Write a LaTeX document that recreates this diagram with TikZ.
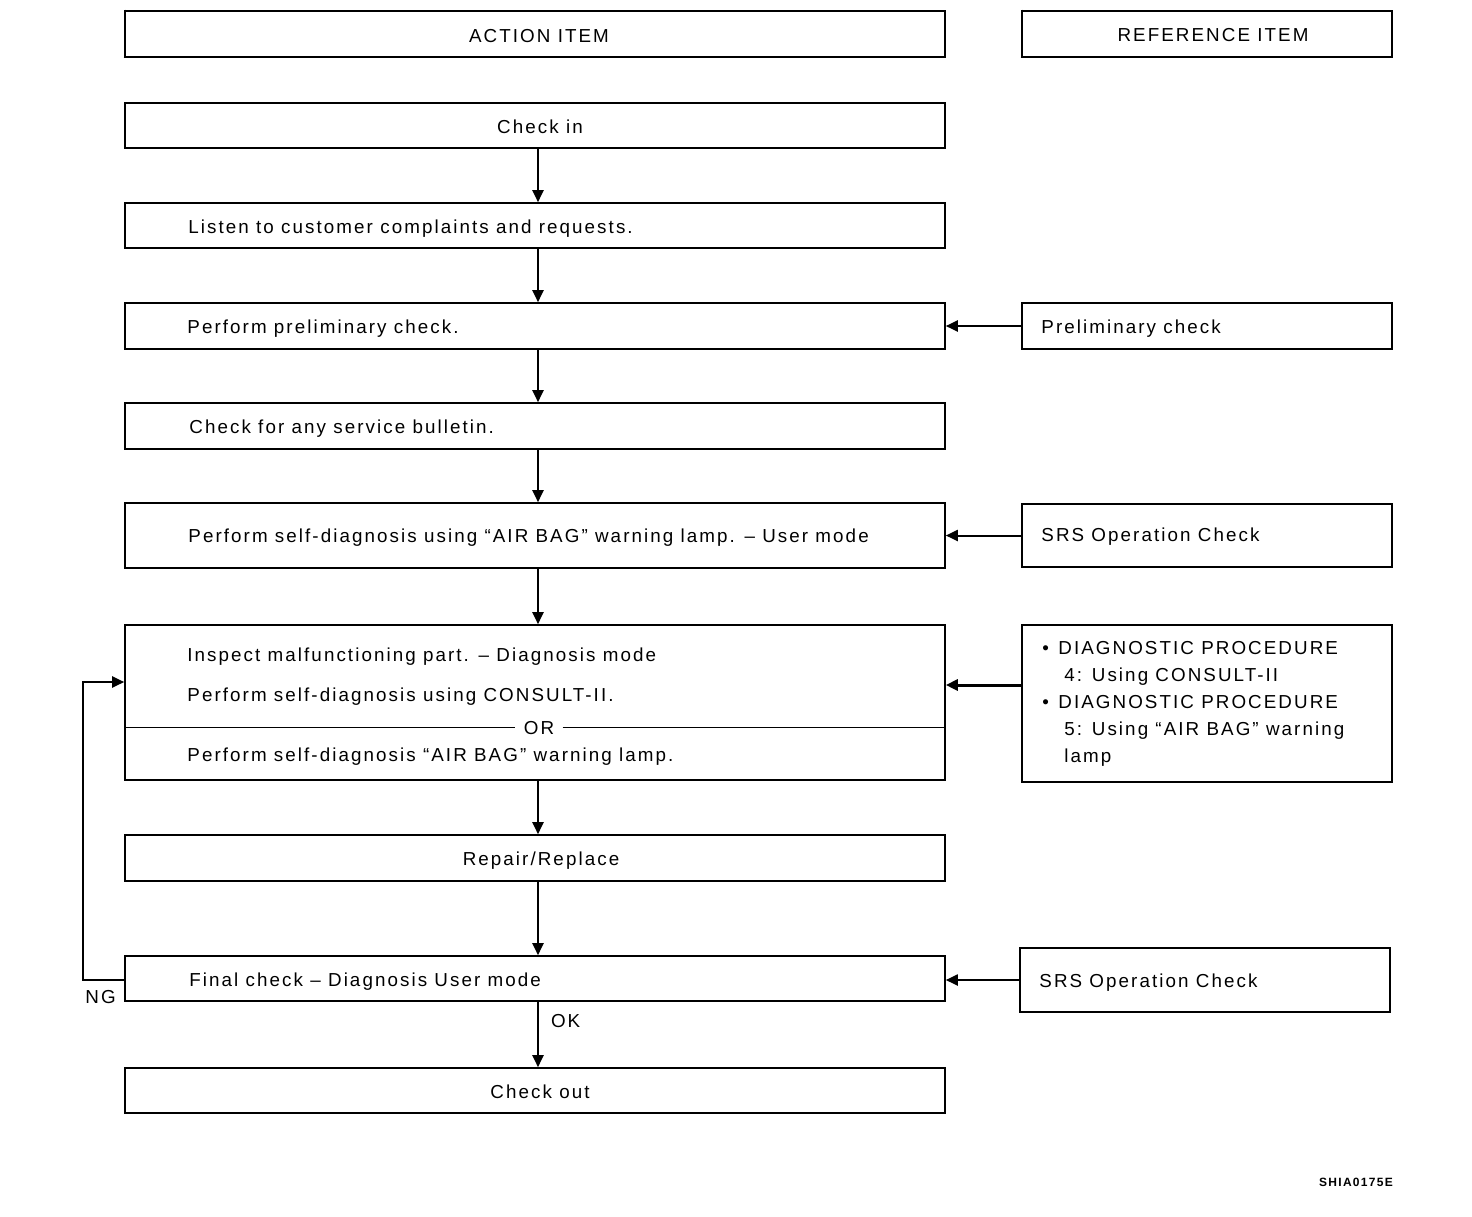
\documentclass[tikz,border=0pt]{standalone}
\usepackage{fontspec}
\setmainfont{Liberation Sans}[LetterSpace=11]
\usetikzlibrary{arrows.meta,fit}
\begin{document}
\begin{tikzpicture}[x=0.5pt,y=-0.5pt,
  box/.style={draw, line width=0.8pt, inner sep=0pt},
  headbox/.style={draw, line width=1.3pt, inner sep=0pt},
  txt/.style={anchor=base west, inner sep=0pt, font=\fontsize{9.4}{11}\selectfont},
  ctxt/.style={anchor=base, inner sep=0pt, font=\fontsize{9.4}{11}\selectfont},
  arr/.style={line width=1pt, -{Triangle[length=6pt,width=5.5pt]}},
  lnk/.style={line width=1pt}]
\useasboundingbox (0,0) rectangle (1472,1216);
% headers
\node[headbox, fit={(125,11)(945,57)}] (hA) {};
\draw[line width=1pt] ([xshift=0.6pt]hA.north west) -- ([xshift=0.6pt]hA.south west);
\draw[line width=0.8pt] ([yshift=0.5pt]hA.south west) -- ([yshift=0.5pt]hA.south east);
\node[ctxt] (hAt) at (539,42) {ACTION ITEM};
\node[headbox, fit={(1022,11)(1392,57)}] (hR) {};
\draw[line width=1pt] ([xshift=0.6pt]hR.north west) -- ([xshift=0.6pt]hR.south west);
\draw[line width=0.8pt] ([yshift=0.5pt]hR.south west) -- ([yshift=0.5pt]hR.south east);
\node[ctxt] (hRt) at (1213,41) {REFERENCE ITEM};
% action boxes
\node[box, fit={(125,103)(945,148)}] (b1) {};
\node[ctxt] (t1) at (540,133) {Check in};
\node[box, fit={(125,203)(945,248)}] (b2) {};
\node[txt] (t2) at (188,233) {Listen to customer complaints and requests.};
\node[box, fit={(125,303)(945,349)}] (b3) {};
\node[txt] (t3) at (187,333) {Perform preliminary check.};
\node[box, fit={(125,403)(945,449)}] (b4) {};
\node[txt] (t4) at (189,433) {Check for any service bulletin.};
\node[box, fit={(125,503)(945,568)}] (b5) {};
\node[txt] (t5) at (188,542) {Perform self-diagnosis using “AIR BAG” warning lamp. – User mode};
\node[box, fit={(125,625)(945,780)}] (b6) {};
\node[txt] (t6a) at (187,661) {Inspect malfunctioning part. – Diagnosis mode};
\node[txt] (t6b) at (187,701) {Perform self-diagnosis using CONSULT-II.};
\node[ctxt, fill=white, inner xsep=4pt] (t6or) at (539,734) {OR};
\node[txt] (t6c) at (187,761) {Perform self-diagnosis “AIR BAG” warning lamp.};
\draw[line width=0.8pt] (b6.west |- t6or.west) -- (t6or.west);
\draw[line width=0.8pt] (t6or.east) -- (b6.east |- t6or.east);
\node[box, fit={(125,835)(945,881)}] (b7) {};
\node[ctxt] (t7) at (541,865) {Repair/Replace};
\node[box, fit={(125,956)(945,1001)}] (b8) {};
\node[txt] (t8) at (189,986) {Final check – Diagnosis User mode};
\node[box, fit={(125,1068)(945,1113)}] (b9) {};
\node[ctxt] (t9) at (540,1098) {Check out};
% reference boxes
\node[box, fit={(1022,303)(1392,349)}] (r1) {};
\node[txt] (r1t) at (1041,333) {Preliminary check};
\node[box, fit={(1022,504)(1392,567)}] (r2) {};
\node[txt] (r2t) at (1041,541) {SRS Operation Check};
\node[box, fit={(1022,625)(1392,782)}] (r3) {};
\node[txt] (r3a) at (1042,654) {•};
\node[txt] (r3b) at (1058,654) {DIAGNOSTIC PROCEDURE};
\node[txt] (r3c) at (1064,681) {4: Using CONSULT-II};
\node[txt] (r3d) at (1042,708) {•};
\node[txt] (r3e) at (1058,708) {DIAGNOSTIC PROCEDURE};
\node[txt] (r3f) at (1064,735) {5: Using “AIR BAG” warning};
\node[txt] (r3g) at (1064,762) {lamp};
\node[box, fit={(1020,948)(1390,1012)}] (r4) {};
\node[txt] (r4t) at (1039,987) {SRS Operation Check};
% vertical arrows
\coordinate (ax) at (538,0);
\draw[arr] (b1.south -| ax) -- (b2.north -| ax);
\draw[arr] (b2.south -| ax) -- (b3.north -| ax);
\draw[arr] (b3.south -| ax) -- (b4.north -| ax);
\draw[arr] (b4.south -| ax) -- (b5.north -| ax);
\draw[arr] (b5.south -| ax) -- (b6.north -| ax);
\draw[arr] (b6.south -| ax) -- (b7.north -| ax);
\draw[arr] (b7.south -| ax) -- (b8.north -| ax);
\draw[arr] (b8.south -| ax) -- node[pos=0.3, right=6pt, txt, anchor=west] (ok) {OK} (b9.north -| ax);
% horizontal arrows
\draw[arr] (r1.west) -- (b3.east |- r1.west);
\draw[arr] (r2.west) -- (b5.east |- r2.west);
\coordinate (dy) at (0,685);
\draw[arr, line width=1.5pt] (r3.west |- dy) -- (b6.east |- dy);
\draw[arr] (r4.west) -- (b8.east |- r4.west);
% NG loop
\coordinate (ngx) at (83,0);
\coordinate (ngy) at (0,682);
\draw[arr] (b8.west |- 0,980) -| (ngx |- ngy) -- (b6.west |- ngy);
\node[txt] (ng) at (85,1003) {NG};
% figure id
\node[anchor=base, inner sep=0pt, font=\fontsize{6}{7}\selectfont\bfseries] (fid) at (1356,1186) {SHIA0175E};
\end{tikzpicture}
\end{document}
